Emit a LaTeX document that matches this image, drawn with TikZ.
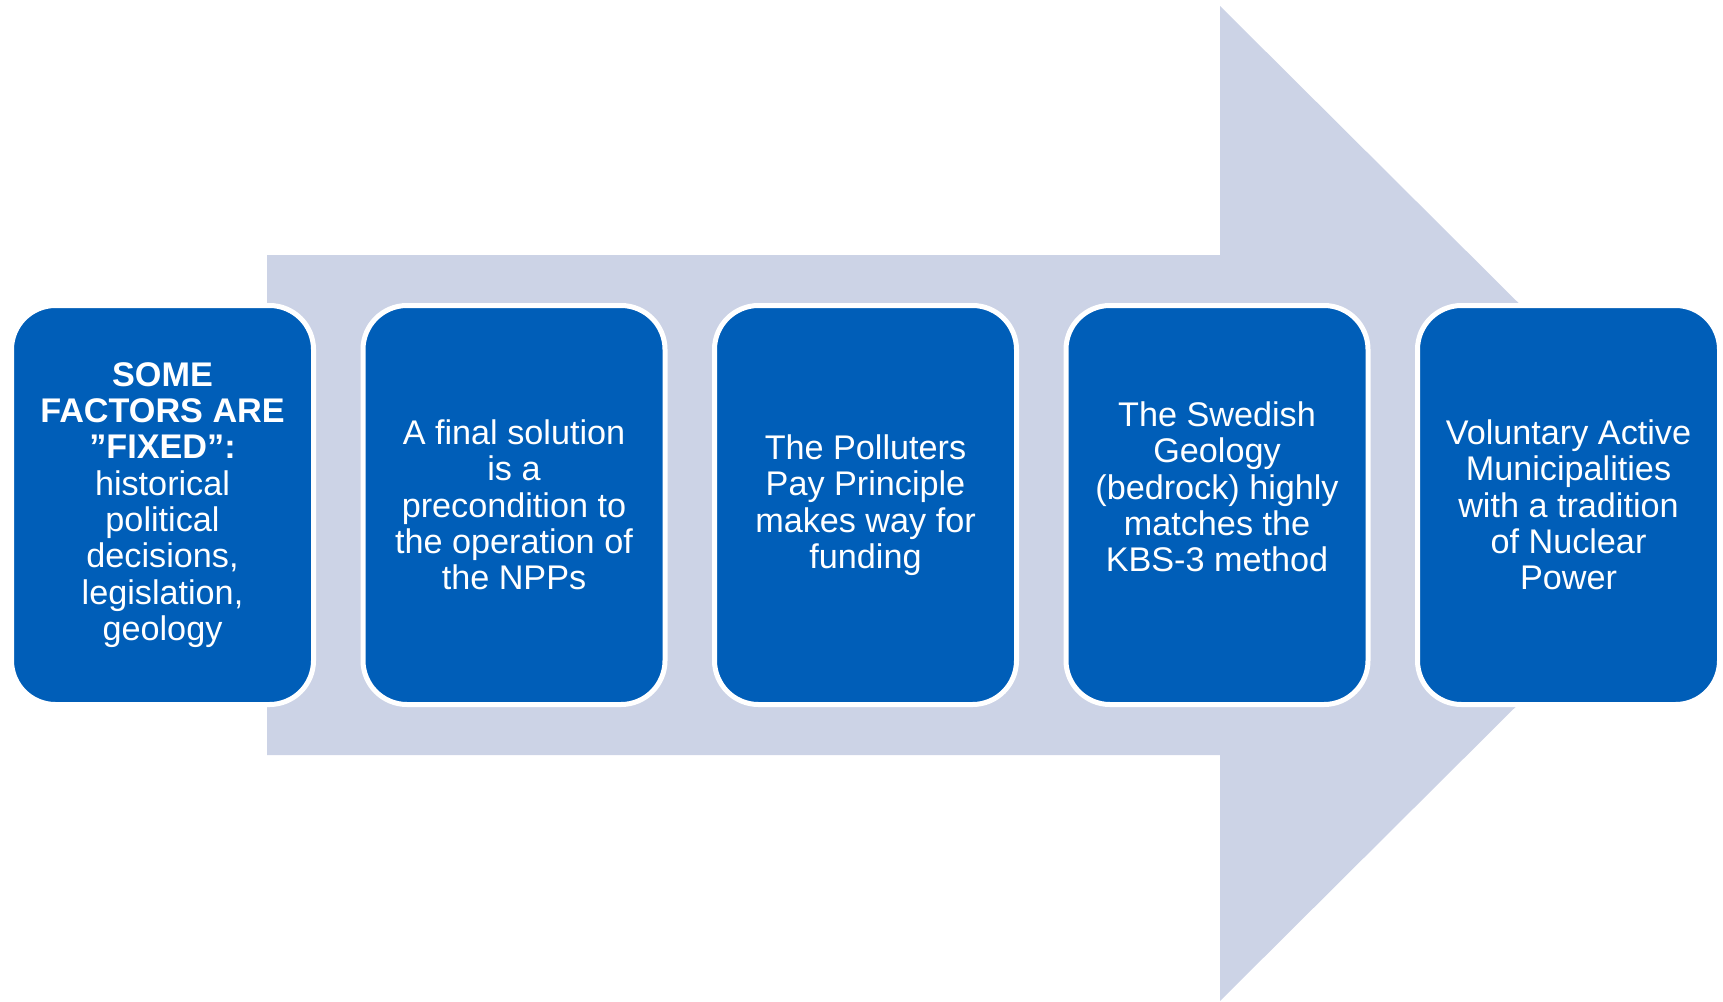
\documentclass[tikz,border=0pt]{standalone}
\usepackage{fontspec}
\setmainfont{Liberation Sans}
\definecolor{boxblue}{RGB}{0,94,184}
\definecolor{arrowc}{RGB}{204,211,230}
\tikzset{
  boxtext/.style={text=white, align=center, inner sep=0pt, font=\fontsize{17.1pt}{18.15pt}\selectfont},
  stepbox/.style={boxtext, draw=white, line width=2.5pt, fill=boxblue, rounded corners=22pt,
    minimum width=151pt, minimum height=199.5pt},
  bigarrow/.style={fill=arrowc}
}
\begin{document}
\begin{tikzpicture}[x=0.5pt,y=-0.5pt]
\useasboundingbox (0,0) rectangle (1723,1001);
\fill[bigarrow] (267,255) -- (1220,255) -- (1220,6) -- (1720,503.5) -- (1220,1001) -- (1220,755) -- (267,755) -- cycle;
\node[stepbox] (b1) at (162.5,505) {\textbf{SOME}\\\textbf{FACTORS ARE}\\\textbf{”FIXED”:}\\historical\\political\\decisions,\\legislation,\\geology};
\node[stepbox] (b2) at (514,505) {A final solution\\is a\\precondition to\\the operation of\\the NPPs};
\node[stepbox] (b3) at (865.5,505) {The Polluters\\Pay Principle\\makes way for\\funding};
\node[stepbox] (b4) at (1217,505) {};
\node[boxtext] (t4) at (1217,487) {The Swedish\\Geology\\(bedrock) highly\\matches the\\KBS-3 method};
\node[stepbox] (b5) at (1568.5,505) {Voluntary Active\\Municipalities\\with a tradition\\of Nuclear\\Power};
\end{tikzpicture}
\end{document}
